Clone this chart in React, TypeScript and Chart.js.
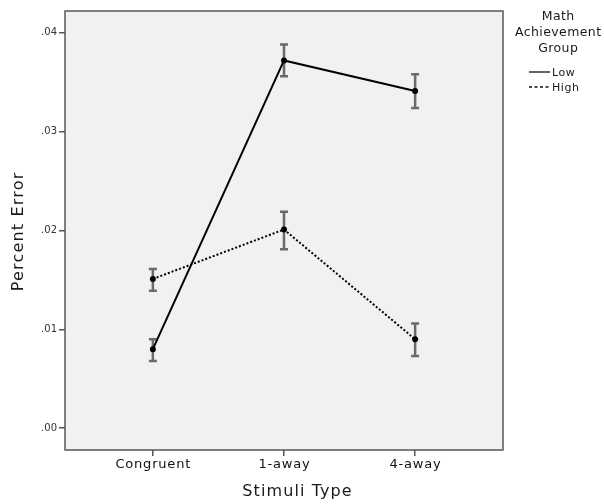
import React, { useEffect, useRef } from "react";
import { Chart, registerables } from "chart.js";

Chart.register(...registerables);

const categories = ["Congruent", "1-away", "4-away"];
const lowMeans = [0.008, 0.0372, 0.0341];
const lowErrLo = [0.0068, 0.0356, 0.0324];
const lowErrHi = [0.009, 0.0388, 0.0358];
const highMeans = [0.0151, 0.0201, 0.009];
const highErrLo = [0.0139, 0.0181, 0.0073];
const highErrHi = [0.0161, 0.0219, 0.0106];
const yTicks = [0, 0.01, 0.02, 0.03, 0.04];
const legendTitle = ["Math", "Achievement", "Group"];
const seriesNames = ["Low", "High"];
const xTitle = "Stimuli Type";
const yTitle = "Percent Error";

const FONT = "'DejaVu Sans', Verdana, sans-serif";

function spacedText(ctx: any, text: string, x: number, y: number, spacing: number, align: string) {
  ctx.save();
  try {
    ctx.letterSpacing = spacing + "px";
  } catch (e) {}
  const w = ctx.measureText(text).width;
  ctx.textAlign = "left";
  let sx = x;
  if (align === "center") sx = x - (w - spacing) / 2;
  else if (align === "right") sx = x - (w - spacing);
  ctx.fillText(text, sx, y);
  ctx.restore();
}

const decorPlugin = {
  id: "decor",
  beforeDraw(chart: any) {
    const { ctx, chartArea: a } = chart;
    ctx.save();
    ctx.fillStyle = "#f1f1f1";
    ctx.fillRect(a.left, a.top, a.right - a.left, a.bottom - a.top);
    ctx.restore();
  },
  beforeDatasetsDraw(chart: any) {
    const { ctx, scales } = chart;
    const xs = scales.x;
    const ys = scales.y;
    const bars = [
      [lowErrLo, lowErrHi],
      [highErrLo, highErrHi],
    ];
    ctx.save();
    ctx.strokeStyle = "#6a6a6a";
    ctx.lineWidth = 2.5;
    bars.forEach(([lo, hi]) => {
      lo.forEach((l, i) => {
        const x = xs.getPixelForValue(i);
        const y1 = ys.getPixelForValue(l);
        const y2 = ys.getPixelForValue(hi[i]);
        ctx.beginPath();
        ctx.moveTo(x, y1);
        ctx.lineTo(x, y2);
        ctx.moveTo(x - 4, y1);
        ctx.lineTo(x + 4, y1);
        ctx.moveTo(x - 4, y2);
        ctx.lineTo(x + 4, y2);
        ctx.stroke();
      });
    });
    ctx.restore();
  },
  afterDraw(chart: any) {
    const { ctx, chartArea: a, scales } = chart;
    ctx.save();
    ctx.strokeStyle = "#555";
    ctx.lineWidth = 1.5;
    ctx.strokeRect(a.left, a.top, a.right - a.left, a.bottom - a.top);

    ctx.fillStyle = "#111";
    ctx.textBaseline = "middle";

    // x tick labels
    ctx.font = `13px ${FONT}`;
    categories.forEach((c, i) => {
      spacedText(ctx, c, scales.x.getPixelForValue(i), 465, 0.8, "center");
    });

    // axis titles
    ctx.fillStyle = "#1a1a1a";
    ctx.font = `16px ${FONT}`;
    spacedText(ctx, xTitle, 297, 492, 1.1, "center");
    ctx.save();
    ctx.translate(19, 232);
    ctx.rotate(-Math.PI / 2);
    spacedText(ctx, yTitle, 0, 0, 1.2, "center");
    ctx.restore();

    // legend
    ctx.font = `12.5px ${FONT}`;
    legendTitle.forEach((t, i) => {
      spacedText(ctx, t, 558, 17 + i * 16, 0.4, "center");
    });
    ctx.font = `11px ${FONT}`;
    seriesNames.forEach((n, i) => {
      const y = 72 + i * 15;
      ctx.beginPath();
      ctx.strokeStyle = "#111";
      ctx.lineWidth = 1.3;
      ctx.setLineDash(i === 0 ? [] : [3, 2.5]);
      ctx.moveTo(529, y);
      ctx.lineTo(550, y);
      ctx.stroke();
      ctx.setLineDash([]);
      spacedText(ctx, n, 552, y + 1, 0.6, "left");
    });
    ctx.restore();
  },
};

export default function App() {
  const ref = useRef<HTMLCanvasElement>(null);
  useEffect(() => {
    if (!ref.current) return;
    const chart = new Chart(ref.current, {
      type: "line",
      data: {
        datasets: [
          {
            label: seriesNames[0],
            data: lowMeans.map((v, i) => ({ x: i, y: v })),
            borderColor: "#000",
            backgroundColor: "#000",
            borderWidth: 2,
            pointRadius: 3,
            pointBackgroundColor: "#000",
            pointBorderWidth: 0,
          },
          {
            label: seriesNames[1],
            data: highMeans.map((v, i) => ({ x: i, y: v })),
            borderColor: "#000",
            backgroundColor: "#000",
            borderWidth: 2,
            borderDash: [2, 2],
            pointRadius: 3,
            pointBackgroundColor: "#000",
            pointBorderWidth: 0,
          },
        ],
      },
      options: {
        animation: false,
        responsive: false,
        devicePixelRatio: 1,
        layout: { padding: { left: 0, top: 11, right: 101, bottom: 0 } },
        plugins: { legend: { display: false }, tooltip: { enabled: false } },
        scales: {
          x: {
            type: "linear",
            min: -0.67,
            max: 2.67,
            afterBuildTicks: (s: any) => {
              s.ticks = categories.map((_, i) => ({ value: i }));
            },
            afterFit: (s: any) => {
              s.height = 54;
            },
            ticks: {
              callback: (v: any) => categories[v] ?? "",
              color: "rgba(0,0,0,0)",
              font: { family: FONT, size: 12 },
              padding: 3,
              maxRotation: 0,
            },
            grid: {
              drawOnChartArea: false,
              drawTicks: true,
              tickLength: 6,
              color: "#555",
              lineWidth: 1.5,
            },
            border: { display: false },
          },
          y: {
            type: "linear",
            min: -0.0022,
            max: 0.0422,
            afterBuildTicks: (s: any) => {
              s.ticks = yTicks.map((v) => ({ value: v }));
            },
            afterFit: (s: any) => {
              s.width = 65;
            },
            ticks: {
              callback: (v: any) => Number(v).toFixed(2).replace(/^0/, ""),
              color: "#333",
              font: { family: FONT, size: 10 },
              padding: 2,
            },
            grid: {
              drawOnChartArea: false,
              drawTicks: true,
              tickLength: 6,
              color: "#555",
              lineWidth: 1.5,
            },
            border: { display: false },
          },
        },
      },
      plugins: [decorPlugin],
    } as any);
    return () => chart.destroy();
  }, []);
  return (
    <div style={{ position: "absolute", left: 0, top: 0, width: 604, height: 504, background: "#fff" }}>
      <canvas ref={ref} width={604} height={504} style={{ display: "block" }} />
    </div>
  );
}
